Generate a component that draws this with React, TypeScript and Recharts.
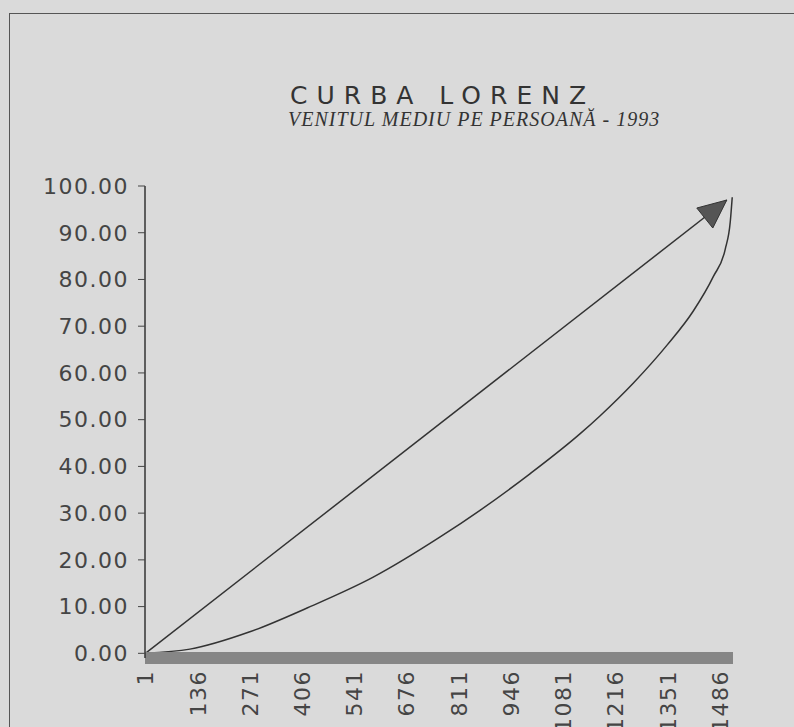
import React from 'react';
import { LineChart, Line, XAxis, YAxis } from 'recharts';

// Lorenz curve (x = household rank, y = cumulative % of income)
const lorenzX = [1, 116, 271, 419, 590, 763, 866, 995, 1125, 1176, 1262, 1350, 1417, 1469, 1500, 1513, 1518];
const lorenzY = [0, 0.9, 4.6, 9.7, 16.3, 24.9, 30.6, 38.4, 47.0, 50.8, 57.8, 66.0, 73.2, 80.6, 86.5, 92.4, 97.6];

// line of perfect equality, ends with the arrow head
const equalX = [1, 1504];
const equalY = [0, 97];

const xTicks = [1, 136, 271, 406, 541, 676, 811, 946, 1081, 1216, 1351, 1486];
const yTicks = [0, 10, 20, 30, 40, 50, 60, 70, 80, 90, 100];

const lorenz = lorenzX.map((x, i) => ({ x, y: lorenzY[i] }));
const equal = equalX.map((x, i) => ({ x, y: equalY[i] }));

const labelFont = { fontFamily: '"DejaVu Sans", sans-serif', fontSize: 22, letterSpacing: 1.5, fill: '#454545' };

function XTick({ x, y, payload }: any) {
  return (
    <g transform={`translate(${x},${y + 4})`}>
      <text transform="rotate(-90)" textAnchor="end" dy="0.36em" {...labelFont}>
        {payload.value}
      </text>
    </g>
  );
}

function ArrowDot(props: any) {
  const { cx, cy, index } = props;
  if (index !== equal.length - 1) return <g key={`d${index}`} />;
  return (
    <polygon
      key={`d${index}`}
      points={`${cx},${cy} ${cx - 30},${cy + 8} ${cx - 14},${cy + 28}`}
      fill="#555"
      stroke="#333"
      strokeWidth={1}
    />
  );
}

export default function App() {
  return (
    <div style={{ position: 'absolute', left: 0, top: 0, width: 794, height: 727, background: '#dadada', overflow: 'hidden' }}>
      <div style={{ position: 'absolute', left: 9, top: 13, width: 800, height: 730, borderLeft: '1.5px solid #555', borderTop: '1.5px solid #555' }} />
      <svg width={794} height={727} style={{ position: 'absolute', left: 0, top: 0 }}>
        <text x={290} y={104} fontFamily='"DejaVu Sans", sans-serif' fontSize={25} letterSpacing={9} fill="#333">
          CURBA LORENZ
        </text>
        <text x={288} y={126} fontFamily='"Liberation Serif", serif' fontStyle="italic" fontSize={20} letterSpacing={1} fill="#333">
          VENITUL MEDIU PE PERSOANĂ - 1993
        </text>
      </svg>
      <div style={{ position: 'absolute', left: 0, top: 0 }}>
        <LineChart width={794} height={727} margin={{ top: 186, right: 61, bottom: 0, left: 0 }}>
          <XAxis
            type="number"
            dataKey="x"
            domain={[0, 1520]}
            ticks={xTicks}
            interval={0}
            height={69}
            axisLine={{ stroke: '#868686', strokeWidth: 12 }}
            tickLine={false}
            tick={<XTick />}
            allowDuplicatedCategory={false}
          />
          <YAxis
            type="number"
            domain={[-1, 100]}
            ticks={yTicks}
            width={145}
            tickFormatter={(v: number) => v.toFixed(2)}
            axisLine={{ stroke: '#333', strokeWidth: 1.5 }}
            tickLine={{ stroke: '#444' }}
            tickSize={7}
            tickMargin={9}
            tick={labelFont}
          />
          <Line data={equal} dataKey="y" type="linear" stroke="#333" strokeWidth={1.5} dot={ArrowDot} isAnimationActive={false} />
          <Line data={lorenz} dataKey="y" type="monotone" stroke="#333" strokeWidth={1.5} dot={false} isAnimationActive={false} />
        </LineChart>
      </div>
    </div>
  );
}
